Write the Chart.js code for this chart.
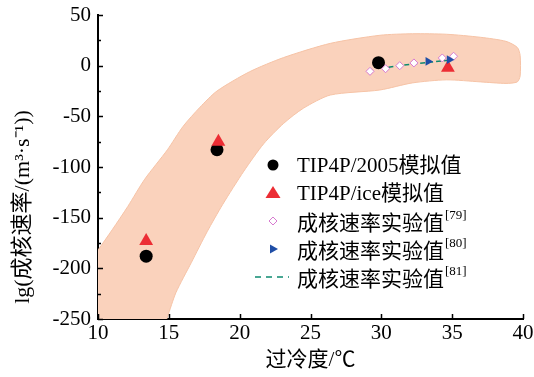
<!DOCTYPE html>
<html>
<head>
<meta charset="utf-8">
<script src="https://cdn.jsdelivr.net/npm/chart.js@4.4.1/dist/chart.umd.min.js"></script>
<style>
  html, body { margin: 0; padding: 0; background: #fff; }
  #wrap { width: 534px; height: 377px; }
</style>
</head>
<body>
<div id="wrap"><canvas id="c" width="534" height="377"></canvas></div>
<script>
// ── 数据 ───────────────────────────────────────────
const tip2005X = [13.4, 18.4, 29.8];
const tip2005Y = [-188, -83, 3];
const tipIceX = [13.4, 18.5, 34.7];
const tipIceY = [-173, -75, -2];
const exp79X = [29.2, 30.3, 31.3, 32.3, 34.3, 35.1];
const exp79Y = [-5.6, -3, 0, 2.7, 7.6, 9.3];
const exp80X = [33.3, 34.8];
const exp80Y = [4.2, 5.9];
const exp81X = [30.5, 31.5, 32.5, 33.5, 34.8];
const exp81Y = [-1.5, 0.5, 2, 3.5, 5.5];

// 阴影带轮廓（上沿从左到右，再沿下沿返回）
const bandX = [9.5, 10, 11, 12.1, 13.3, 14.9, 16, 17.2, 18.4, 20.7, 23.1, 26.4, 29.9, 32.2, 34.6, 37, 38.8, 39.6, 39.8,
               39.8, 39.6, 38.8, 37, 34.6, 32.2, 29.9, 26.4, 24.5, 23.1, 21.7, 20.3, 18.8, 17.7, 16.6, 15.5, 14.9, 14.5, 9.5];
const bandY = [-192, -182, -162, -139, -112, -83, -60, -41, -25, -6, 8, 22, 30, 31.5, 31, 28, 24, 18, 10,
               -10, -16, -17.5, -16, -14, -17, -24, -29, -42, -57, -77, -104, -137, -164, -194, -224, -248, -262, -262];

const xMin = 10, xMax = 40, xStep = 5;
const yMin = -250, yMax = 50, yStep = 50, yMinorStep = 25;

const FONT = '"Liberation Serif", "Times New Roman", "Noto Sans CJK SC", serif';
const CJK = '"Noto Sans CJK SC", "Liberation Serif", serif';

const C_BLACK = '#000000';
const C_RED = '#EC2D34';
const C_PINK = '#D77BD0';
const C_BLUE = '#1F4EA6';
const C_TEAL = '#0E8A70';

const pts = (xs, ys) => xs.map((x, i) => ({ x, y: ys[i] }));

// ── 刻度（向内）──────────────────────────────────────
const innerTicks = {
  id: 'innerTicks',
  afterDatasetsDraw(chart) {
    const { ctx, chartArea: a, scales: { x, y } } = chart;
    ctx.save();
    ctx.strokeStyle = '#000';
    ctx.lineWidth = 1.5;
    ctx.beginPath();
    for (let v = yMin; v <= yMax; v += yMinorStep) {
      const py = Math.round(y.getPixelForValue(v)) + 0.5;
      const len = (v % yStep === 0) ? 5 : 3;
      ctx.moveTo(a.left, py);
      ctx.lineTo(a.left + len, py);
    }
    for (let v = xMin; v <= xMax; v += xStep) {
      const px = Math.round(x.getPixelForValue(v)) + 0.5;
      ctx.moveTo(px, a.bottom);
      ctx.lineTo(px, a.bottom - 5);
    }
    ctx.stroke();
    ctx.restore();
  }
};

// ── 纵轴标题 ─────────────────────────────────────────
const yTitle = {
  id: 'yTitle',
  afterDraw(chart) {
    const { ctx } = chart;
    ctx.save();
    ctx.translate(23, 207);
    ctx.rotate(-Math.PI / 2);
    ctx.fillStyle = '#000';
    ctx.font = '22px ' + FONT;
    ctx.textAlign = 'center';
    ctx.textBaseline = 'middle';
    ctx.fillText('lg(成核速率/(m³·s⁻¹))', 0, 0);
    ctx.restore();
  }
};

// ── 图例 ──────────────────────────────────────────────
const legendItems = [
  { kind: 'circle', color: C_BLACK, text: 'TIP4P/2005模拟值', sup: '' },
  { kind: 'tri', color: C_RED, text: 'TIP4P/ice模拟值', sup: '' },
  { kind: 'diamond', color: C_PINK, text: '成核速率实验值', sup: '[79]' },
  { kind: 'rtri', color: C_BLUE, text: '成核速率实验值', sup: '[80]' },
  { kind: 'dash', color: C_TEAL, text: '成核速率实验值', sup: '[81]' }
];

const customLegend = {
  id: 'customLegend',
  afterDraw(chart) {
    const { ctx } = chart;
    const mx = 273, tx = 297, y0 = 165, dy = 28;
    ctx.save();
    legendItems.forEach((it, i) => {
      const y = y0 + i * dy;
      ctx.fillStyle = it.color;
      ctx.strokeStyle = it.color;
      ctx.beginPath();
      if (it.kind === 'circle') {
        ctx.arc(mx, y, 5.5, 0, Math.PI * 2);
        ctx.fill();
      } else if (it.kind === 'tri') {
        ctx.moveTo(mx, y - 7);
        ctx.lineTo(mx + 7.5, y + 5);
        ctx.lineTo(mx - 7.5, y + 5);
        ctx.closePath();
        ctx.fill();
      } else if (it.kind === 'diamond') {
        ctx.fillStyle = '#fff';
        ctx.lineWidth = 1;
        ctx.moveTo(mx, y - 4);
        ctx.lineTo(mx + 4, y);
        ctx.lineTo(mx, y + 4);
        ctx.lineTo(mx - 4, y);
        ctx.closePath();
        ctx.fill();
        ctx.stroke();
      } else if (it.kind === 'rtri') {
        ctx.moveTo(mx + 5, y);
        ctx.lineTo(mx - 3, y - 4.5);
        ctx.lineTo(mx - 3, y + 4.5);
        ctx.closePath();
        ctx.fill();
      } else {
        ctx.lineWidth = 1.5;
        ctx.setLineDash([6, 5]);
        ctx.moveTo(mx - 18, y);
        ctx.lineTo(mx + 16, y);
        ctx.stroke();
        ctx.setLineDash([]);
      }
      ctx.fillStyle = '#000';
      ctx.textBaseline = 'middle';
      ctx.textAlign = 'left';
      ctx.font = '21px ' + (it.sup ? CJK : FONT);
      ctx.fillText(it.text, tx, y + 1);
      if (it.sup) {
        const w = ctx.measureText(it.text).width;
        ctx.font = '13px ' + FONT;
        ctx.fillText(it.sup, tx + w + 1, y - 5);
      }
    });
    ctx.restore();
  }
};

new Chart(document.getElementById('c'), {
  type: 'scatter',
  data: {
    datasets: [
      {
        label: 'band',
        data: pts(bandX, bandY),
        showLine: true,
        fill: 'shape',
        backgroundColor: '#FAD2BC',
        borderColor: '#F6C3A6',
        borderWidth: 1,
        pointRadius: 0,
        tension: 0.25,
        clip: 0,
        order: 10
      },
      {
        label: 'TIP4P/2005模拟值',
        data: pts(tip2005X, tip2005Y),
        pointStyle: 'circle',
        pointRadius: 6.5,
        backgroundColor: C_BLACK,
        borderColor: C_BLACK,
        borderWidth: 0,
        order: 5
      },
      {
        label: 'TIP4P/ice模拟值',
        data: pts(tipIceX, tipIceY),
        pointStyle: 'triangle',
        pointRadius: 8,
        backgroundColor: C_RED,
        borderColor: C_RED,
        borderWidth: 0,
        order: 4
      },
      {
        label: '成核速率实验值[81]',
        data: pts(exp81X, exp81Y),
        showLine: true,
        borderColor: C_TEAL,
        borderWidth: 1.5,
        borderDash: [5, 3],
        pointRadius: 0,
        order: 3
      },
      {
        label: '成核速率实验值[79]',
        data: pts(exp79X, exp79Y),
        pointStyle: 'rectRot',
        pointRadius: 4,
        backgroundColor: '#ffffff',
        borderColor: C_PINK,
        borderWidth: 1,
        order: 2
      },
      {
        label: '成核速率实验值[80]',
        data: pts(exp80X, exp80Y),
        pointStyle: 'triangle',
        rotation: 90,
        pointRadius: 5,
        backgroundColor: C_BLUE,
        borderColor: C_BLUE,
        borderWidth: 0,
        order: 1
      }
    ]
  },
  options: {
    responsive: false,
    animation: false,
    devicePixelRatio: 1,
    layout: { padding: { top: 15, right: 11, left: 0, bottom: 0 } },
    plugins: {
      legend: { display: false },
      tooltip: { enabled: false }
    },
    scales: {
      x: {
        type: 'linear',
        min: xMin, max: xMax,
        afterFit: (s) => { s.height = 58; s.paddingLeft = 0; s.paddingRight = 0; },
        ticks: { stepSize: xStep, color: '#000', font: { family: FONT, size: 21 }, padding: 2, maxRotation: 0 },
        grid: { drawOnChartArea: false, drawTicks: false },
        border: { color: '#000', width: 2 },
        title: {
          display: true,
          text: '过冷度/℃',
          color: '#000',
          font: { family: FONT, size: 21 },
          padding: { top: 0, bottom: 4 }
        }
      },
      y: {
        type: 'linear',
        min: yMin, max: yMax,
        afterFit: (s) => { s.width = 98; s.paddingTop = 0; s.paddingBottom = 0; },
        ticks: { stepSize: yStep, color: '#000', font: { family: FONT, size: 21 }, padding: 7 },
        grid: { drawOnChartArea: false, drawTicks: false },
        border: { color: '#000', width: 2 }
      }
    }
  },
  plugins: [innerTicks, yTitle, customLegend]
});
</script>
</body>
</html>
